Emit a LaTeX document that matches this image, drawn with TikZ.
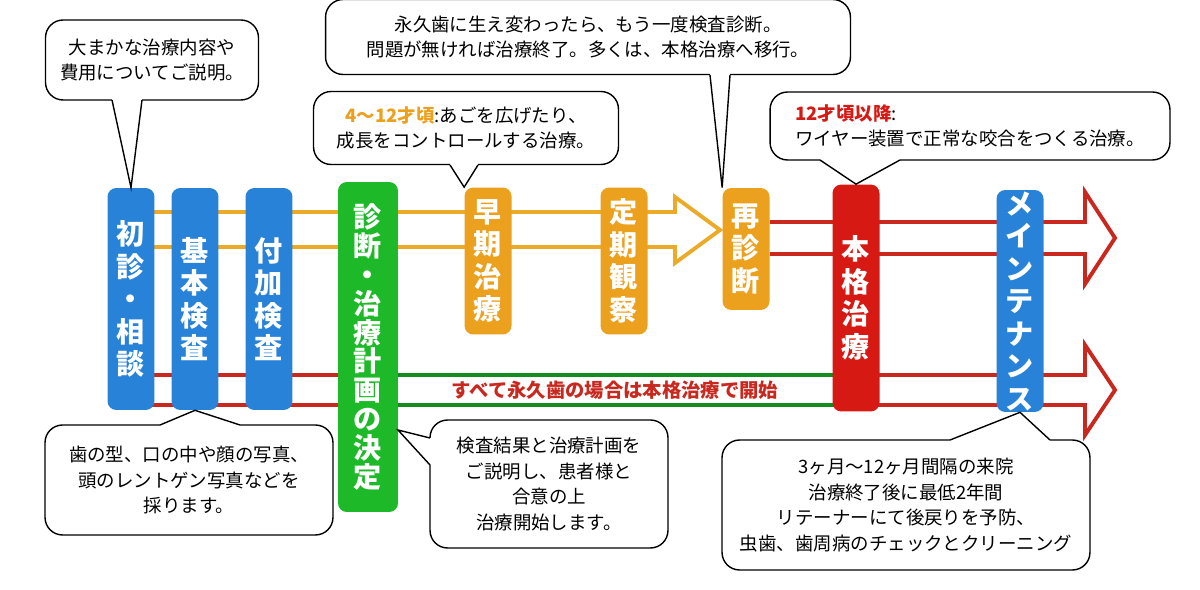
\documentclass[tikz,border=0pt]{standalone}
\usepackage{fontspec}
\newfontfamily\jp{Noto Sans CJK JP}
\usetikzlibrary{positioning}
\definecolor{stepblue}{RGB}{40,130,215}
\definecolor{stepgreen}{RGB}{30,185,40}
\definecolor{steporange}{RGB}{235,160,30}
\definecolor{stepred}{RGB}{215,25,20}
\definecolor{linered}{RGB}{200,40,30}
\definecolor{lineorange}{RGB}{235,170,40}
\definecolor{linegreen}{RGB}{20,140,30}
\tikzset{
  stage/.style={rounded corners=5pt,text=white,font=\jp\bfseries\fontsize{16}{18.5}\selectfont,align=center,inner sep=0pt,minimum width=0.94cm},
  note/.style={draw,thick,rounded corners=10pt,fill=white,font=\jp\fontsize{10.5}{14.5}\selectfont,align=center},
  track/.style={line width=2.2pt}
}
\newcommand\pointer[3]{\draw[white,line width=2pt] (#1)--(#2); \draw[thick] (#1)--(#3)--(#2);}
\begin{document}
\begin{tikzpicture}[x=0.02cm,y=-0.02cm]
\useasboundingbox (0,0) rectangle (1200,590);
% tracks
\draw[track,lineorange] (130,212) -- (675,212) -- (675,197) -- (720,230) -- (675,263) -- (675,247) -- (130,247);
\draw[track,linered] (770,222) -- (1085,222) -- (1085,192) -- (1115,238) -- (1085,284) -- (1085,254) -- (770,254);
\draw[track,linered] (130,375) -- (1085,375) -- (1085,345) -- (1115,390) -- (1085,435) -- (1085,405) -- (130,405);
\draw[track,linegreen] (398,375) -- (833,375) (398,405) -- (833,405);
\node[font=\jp\bfseries\fontsize{11}{12}\selectfont,text=linered] (allperm) at (615,390) {すべて永久歯の場合は本格治療で開始};
% steps
\node[stage,fill=stepblue,minimum height=4.44cm] (first) at (131,299) {初\\診\\・\\相\\談};
\node[stage,fill=stepblue,minimum height=4.44cm] (basic) at (195,299) {基\\本\\検\\査};
\node[stage,fill=stepblue,minimum height=4.44cm] (extra) at (269,299) {付\\加\\検\\査};
\node[stage,fill=stepgreen,minimum height=6.6cm,minimum width=1.2cm,font=\jp\bfseries\fontsize{16}{16.5}\selectfont] (plan) at (368,347) {診\\断\\・\\治\\療\\計\\画\\の\\決\\定};
\node[stage,fill=steporange,minimum height=2.94cm] (early) at (488,261) {早\\期\\治\\療};
\node[stage,fill=steporange,minimum height=2.94cm] (watch) at (624,261) {定\\期\\観\\察};
\node[stage,fill=steporange,minimum height=2.44cm] (rediag) at (746,249) {再\\診\\断};
\node[stage,fill=stepred,minimum height=4.54cm] (full) at (856,298) {本\\格\\治\\療};
\node[stage,fill=stepblue,minimum height=4.44cm] (maint) at (1020,301) {メ\\イ\\ン\\テ\\ナ\\ン\\ス};
% notes
\node[note,minimum width=4.26cm,minimum height=1.6cm] (n1) at (152,60) {大まかな治療内容や\\費用についてご説明。};
\pointer{112,100}{142,100}{first.north}
\node[note,minimum width=10.5cm,minimum height=1.5cm] (n2) at (588,37) {永久歯に生え変わったら、もう一度検査診断。\\問題が無ければ治療終了。多くは、本格治療へ移行。};
\pointer{710,75}{730,75}{rediag.north west}
\node[note,minimum width=6.1cm,minimum height=1.46cm] (n3) at (466,128) {{\bfseries\color{steporange}4〜12才頃}:あごを広げたり、\\成長をコントロールする治療。};
\pointer{450,165}{478,165}{early.north west}
\node[note,minimum width=8cm,minimum height=1.36cm,align=left] (n4) at (970,126) {{\bfseries\color{stepred}12才頃以降}:\\ワイヤー装置で正常な咬合をつくる治療。};
\pointer{820,160}{900,160}{full.north}
\node[note,minimum width=5.76cm,minimum height=2.2cm] (n5) at (189,480) {歯の型、口の中や顔の写真、\\頭のレントゲン写真などを\\採ります。};
\pointer{160,425}{240,425}{basic.south}
\node[note,minimum width=4.76cm,minimum height=2.56cm] (n6) at (549,484) {検査結果と治療計画を\\ご説明し、患者様と\\合意の上\\治療開始します。};
\coordinate (plantip) at (398,430);
\pointer{430,438}{430,465}{plantip}
\node[note,minimum width=7.36cm,minimum height=2.6cm] (n7) at (906,505) {3ヶ月〜12ヶ月間隔の来院\\治療終了後に最低2年間\\リテーナーにて後戻りを予防、\\虫歯、歯周病のチェックとクリーニング};
\pointer{950,440}{1050,440}{maint.south}
\end{tikzpicture}
\end{document}
